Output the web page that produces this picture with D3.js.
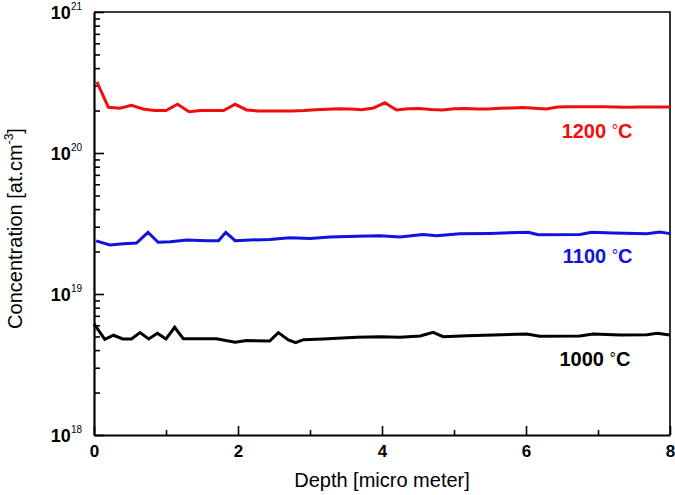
<!DOCTYPE html>
<html>
<head>
<meta charset="utf-8">
<script src="https://cdn.jsdelivr.net/npm/d3@7"></script>
<style>
    body { margin: 0; background: #fff; }
</style>
</head>
<body>
<div id="chart"></div>
<script>
// Data (depth in micro meter, concentration in at.cm-3)
const depth1200 = [0.04, 0.20, 0.36, 0.52, 0.68, 0.84, 1.00, 1.16, 1.32, 1.48, 1.64, 1.80, 1.96, 2.12, 2.28, 2.44, 2.60, 2.76, 2.92, 3.08,
    3.24, 3.40, 3.56, 3.72, 3.88, 4.04, 4.20, 4.36, 4.52, 4.68, 4.84, 5.00, 5.16, 5.32, 5.48, 5.64, 5.80, 5.96, 6.12, 6.28,
    6.44, 6.60, 6.76, 6.92, 7.08, 7.24, 7.40, 7.56, 7.72, 7.88, 8.00];
const conc1200 = [3.20e20, 2.11e20, 2.08e20, 2.18e20, 2.05e20, 2.00e20, 2.00e20, 2.215e20, 1.96e20, 2.00e20, 2.00e20, 2.00e20, 2.215e20, 2.02e20, 1.985e20, 1.985e20, 1.985e20, 1.985e20, 2.00e20, 2.025e20,
    2.04e20, 2.06e20, 2.05e20, 2.03e20, 2.085e20, 2.27e20, 2.02e20, 2.06e20, 2.07e20, 2.035e20, 2.02e20, 2.06e20, 2.07e20, 2.05e20, 2.05e20, 2.075e20, 2.085e20, 2.10e20, 2.075e20, 2.05e20,
    2.12e20, 2.13e20, 2.13e20, 2.13e20, 2.13e20, 2.12e20, 2.11e20, 2.12e20, 2.12e20, 2.12e20, 2.12e20];

const depth1100 = [0.03, 0.22, 0.41, 0.59, 0.75, 0.89, 1.06, 1.29, 1.57, 1.73, 1.83, 1.96, 2.17, 2.44, 2.72, 3.00, 3.28, 3.65, 3.97, 4.25,
    4.57, 4.76, 5.08, 5.50, 6.03, 6.17, 6.75, 6.91, 7.21, 7.68, 7.86, 8.00];
const conc1100 = [2.38e19, 2.23e19, 2.27e19, 2.30e19, 2.74e19, 2.33e19, 2.35e19, 2.415e19, 2.39e19, 2.39e19, 2.74e19, 2.39e19, 2.415e19, 2.44e19, 2.51e19, 2.48e19, 2.54e19, 2.565e19, 2.59e19, 2.54e19,
    2.64e19, 2.59e19, 2.68e19, 2.69e19, 2.74e19, 2.63e19, 2.64e19, 2.74e19, 2.71e19, 2.68e19, 2.75e19, 2.68e19];

const depth1000 = [0.00, 0.15, 0.27, 0.40, 0.52, 0.64, 0.76, 0.88, 1.00, 1.12, 1.24, 1.70, 1.96, 2.12, 2.44, 2.56, 2.70, 2.80, 2.91, 3.18,
    3.65, 3.97, 4.25, 4.53, 4.71, 4.85, 5.18, 5.55, 6.01, 6.19, 6.75, 6.93, 7.31, 7.68, 7.82, 8.00];
const conc1000 = [6.13e18, 4.77e18, 5.10e18, 4.80e18, 4.80e18, 5.32e18, 4.80e18, 5.27e18, 4.80e18, 5.80e18, 4.82e18, 4.82e18, 4.55e18, 4.67e18, 4.64e18, 5.32e18, 4.72e18, 4.52e18, 4.74e18, 4.80e18,
    4.93e18, 4.98e18, 4.93e18, 5.04e18, 5.35e18, 4.98e18, 5.06e18, 5.12e18, 5.20e18, 5.01e18, 5.04e18, 5.20e18, 5.12e18, 5.14e18, 5.27e18, 5.12e18];

const seriesNames = ["1200", "1100", "1000"];
const seriesColors = ["#f20d0d", "#1111e0", "#000000"];
const xTicks = [0, 2, 4, 6, 8];
const xMinorTicks = [1, 3, 5, 7];
const yExponents = [18, 19, 20, 21];

class ChartLine {
    constructor() {
        const attrs = {
            svgWidth: 675,
            svgHeight: 495,
            marginTop: 12,
            marginBottom: 60,
            marginRight: 5,
            marginLeft: 94,
            container: "#chart",
            defaultFont: "'Liberation Sans', Arial, Helvetica, sans-serif",
            chartWidth: null,
            chartHeight: null
        };
        this.getState = () => attrs;
        this.setState = (d) => Object.assign(attrs, d);
        this.initializeEnterExitUpdatePattern();
    }

    render() {
        this.calculateProperties();
        this.drawSvgAndWrappers();
        this.drawAxes();
        this.drawLines();
        return this;
    }

    calculateProperties() {
        const { marginLeft, marginTop, marginRight, marginBottom, svgWidth, svgHeight } = this.getState();
        const chartWidth = svgWidth - marginRight - marginLeft;
        const chartHeight = svgHeight - marginBottom - marginTop;

        const x = d3.scaleLinear().domain([0, 8]).range([0, chartWidth]);
        const y = d3.scaleLog().domain([1e18, 1e21]).range([chartHeight, 0]);

        this.setState({ chartWidth, chartHeight, x, y });
    }

    drawSvgAndWrappers() {
        const { svgWidth, svgHeight, defaultFont, marginLeft, marginTop, container } = this.getState();

        const svg = d3.select(container)._add('svg.svg-container')
            .attr("width", svgWidth)
            .attr("height", svgHeight)
            .style("display", "block")
            .attr("font-family", defaultFont);

        const chart = svg._add('g.chart')
            .attr("transform", "translate(" + marginLeft + "," + marginTop + ")");

        this.setState({ svg, chart });
    }

    drawAxes() {
        const { chart, svg, x, y, chartWidth, chartHeight, marginLeft, marginTop } = this.getState();

        // frame on top and right
        chart._add('path.frame')
            .attr("d", `M0,0H${chartWidth}V${chartHeight}`)
            .attr("fill", "none")
            .attr("stroke", "#000")
            .attr("stroke-width", 1.6);

        // x axis, ticks pointing inward
        const xAxis = chart._add('g.x-axis')
            .attr("transform", `translate(0,${chartHeight})`)
            .call(d3.axisBottom(x).tickValues(xTicks).tickSize(-9).tickSizeOuter(0).tickPadding(10).tickFormat(d3.format("d")));
        chart._add('g.x-minor')
            .attr("transform", `translate(0,${chartHeight})`)
            .call(d3.axisBottom(x).tickValues(xMinorTicks).tickSize(-5).tickSizeOuter(0).tickFormat(""))
            .call(g => g.select(".domain").remove());

        xAxis.select(".domain").attr("stroke-width", 2.2);
        xAxis.selectAll("text")
            .attr("font-size", 17)
            .attr("font-weight", "bold")
            .attr("font-family", null)
            .attr("fill", "#000");

        // y axis
        const minors = [];
        yExponents.slice(0, -1).forEach(e => {
            for (let m = 2; m <= 9; m++) minors.push(m * Math.pow(10, e));
        });
        const yAxis = chart._add('g.y-axis')
            .call(d3.axisLeft(y).tickValues(yExponents.map(e => Math.pow(10, e))).tickSize(-10).tickSizeOuter(0).tickFormat(""));
        chart._add('g.y-minor')
            .call(d3.axisLeft(y).tickValues(minors).tickSize(-6).tickSizeOuter(0).tickFormat(""))
            .call(g => g.select(".domain").remove());
        yAxis.select(".domain").attr("stroke-width", 2.2);
        chart.selectAll(".tick line").attr("stroke-width", 1.6);

        const yLabels = chart._add('text.y-tick-label', yExponents)
            .attr("x", -12)
            .attr("y", d => y(Math.pow(10, d)) + 6.5)
            .attr("text-anchor", "end")
            .attr("fill", "#000");
        yLabels._add('tspan.base')
            .attr("font-size", 18)
            .attr("font-weight", "bold")
            .text("10");
        yLabels._add('tspan.exp')
            .attr("font-size", 10)
            .attr("dy", -9)
            .text(d => d);

        // axis titles
        svg._add('text.x-title')
            .attr("x", marginLeft + chartWidth / 2)
            .attr("y", 487)
            .attr("text-anchor", "middle")
            .attr("font-size", 20)
            .text("Depth [micro meter]");

        const yTitle = svg._add('text.y-title')
            .attr("transform", `translate(22,${marginTop + chartHeight / 2 + 5}) rotate(-90)`)
            .attr("text-anchor", "middle")
            .attr("font-size", 20);
        yTitle._add('tspan.t1').text("Concentration [at.cm");
        yTitle._add('tspan.t2').attr("font-size", 12).attr("dy", -9).text("-3");
        yTitle._add('tspan.t3').attr("dy", 9).text("]");
    }

    drawLines() {
        const { chart, x, y } = this.getState();

        const series = [
            { id: "s1200", name: seriesNames[0], color: seriesColors[0], depth: depth1200, conc: conc1200, lx: 7.48, ly: 138 },
            { id: "s1100", name: seriesNames[1], color: seriesColors[1], depth: depth1100, conc: conc1100, lx: 7.48, ly: 263 },
            { id: "s1000", name: seriesNames[2], color: seriesColors[2], depth: depth1000, conc: conc1000, lx: 7.45, ly: 365.5 }
        ];

        const line = d3.line()
            .x(d => x(d[0]))
            .y(d => y(d[1]));

        chart._add('path.series-line', series)
            .attr("d", d => line(d.depth.map((v, i) => [v, d.conc[i]])))
            .attr("fill", "none")
            .attr("stroke", d => d.color)
            .attr("stroke-width", 3)
            .attr("stroke-linejoin", "miter")
            .attr("stroke-miterlimit", 4);

        const labels = chart._add('text.series-label', series)
            .attr("x", d => x(d.lx))
            .attr("y", d => d.ly - 12)
            .attr("text-anchor", "end")
            .attr("font-size", 20)
            .attr("fill", d => d.color);
        labels._add('tspan.num').attr("font-weight", "bold").text(d => d.name + " ");
        labels._add('tspan.deg').attr("font-weight", "normal").attr("font-size", 16).attr("dy", -2).text("°");
        labels._add('tspan.unit').attr("font-weight", "bold").attr("dy", 2).text("C");
    }

    initializeEnterExitUpdatePattern() {
        d3.selection.prototype._add = function (classSelector, data) {
            const container = this;
            const split = classSelector.split(".");
            const elementTag = split[0];
            const className = split[1] || 'not-good';

            let bindData = data;
            if (bindData && !Array.isArray(bindData)) {
                bindData = [bindData];
            }
            if (!bindData) {
                if (container.datum()) {
                    bindData = d => [d];
                } else {
                    bindData = [className];
                }
            }

            let selection = container.selectAll(elementTag + '.' + className).data(bindData, (d, i) => {
                if (typeof d === "object" && d.id) return d.id;
                return i;
            });
            selection.exit().remove();
            selection = selection.enter().append(elementTag).merge(selection);
            selection.attr("class", className);
            return selection;
        };
    }
}

new ChartLine().render();
</script>
</body>
</html>
